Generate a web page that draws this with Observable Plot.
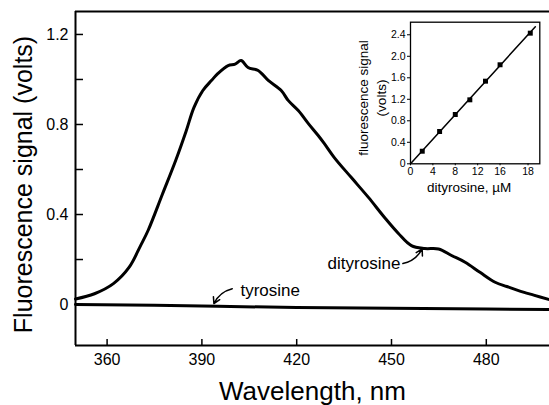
<!DOCTYPE html>
<html>
<head>
<meta charset="utf-8">
<script src="https://cdn.jsdelivr.net/npm/d3@7"></script>
<script src="https://cdn.jsdelivr.net/npm/@observablehq/plot@0.6"></script>
<style>
  body { margin: 0; background: #fff; }
  #chart { position: relative; width: 549px; height: 405px; overflow: hidden; }
  #inset { position: absolute; left: 340px; top: 0; }
</style>
</head>
<body>
<div id="chart"><div id="inset"></div></div>
<script>
// Emission spectrum of dityrosine (volts vs nm)
const wavelengthNm = [350, 356, 362, 367, 370.6, 373, 377.5, 381.7, 385, 387.5, 390.3, 393, 395.1, 398.3, 400.5, 402.4, 404.6, 407.8, 411, 415.1, 417.3, 420.5, 423.7, 426.8, 428.7, 431.9, 437.3, 442.7, 447.8, 452.2, 456.3, 460.5, 464.9, 469, 473.3, 478, 482.8, 486.5, 490.2, 495, 500];
const dityrosineVolts = [0.025, 0.048, 0.093, 0.166, 0.262, 0.33, 0.49, 0.64, 0.77, 0.876, 0.951, 0.995, 1.027, 1.062, 1.068, 1.084, 1.053, 1.04, 0.996, 0.951, 0.907, 0.862, 0.804, 0.751, 0.716, 0.653, 0.564, 0.476, 0.387, 0.316, 0.262, 0.249, 0.247, 0.218, 0.188, 0.143, 0.099, 0.08, 0.062, 0.042, 0.022];

// Tyrosine baseline
const tyrosineNm = [350, 375, 395, 420, 450, 480, 500];
const tyrosineVolts = [0.0, -0.003, -0.008, -0.013, -0.017, -0.02, -0.022];

// Main axes
const mainYTicks = [0, 0.2, 0.4, 0.6, 0.8, 1.0, 1.2];
const mainYLabels = [0, 0.4, 0.8, 1.2];
const mainXTicks = [360, 390, 420, 450, 480];

// Curve labels and their pointers
const curveNames = ["tyrosine", "dityrosine"];
const curveLabelNm = [402.2, 452.8];
const curveLabelVolts = [0.062, 0.182];
const curveLabelAnchor = ["start", "end"];
const pointerFromNm = [399.6, 453.6];
const pointerFromVolts = [0.07, 0.182];
const pointerToNm = [393.8, 459.7];
const pointerToVolts = [0.004, 0.247];

// Inset: calibration with dityrosine concentration
const dityrosineUM = [2.1, 5.2, 8.0, 10.6, 13.4, 16.0, 21.4];
const signalVolts = [0.234, 0.601, 0.917, 1.19, 1.537, 1.842, 2.43];
const fitUM = [0, 22.3];
const fitVolts = [0, 2.55];
const insetYTicks = [0, 0.4, 0.8, 1.2, 1.6, 2.0, 2.4];
const insetXTickPos = [0, 4, 8, 12, 16, 21];
const insetXTickLabels = ["0", "4", "8", "12", "16", "18"];

const font = "'Liberation Sans', Arial, Helvetica, sans-serif";
const W = 549, H = 405;
const mL = 75, mR = 0, mT = 11, mB = 60;
const frameW = W - mL - mR, frameH = H - mT - mB;
const yMin = -0.182, yMax = 1.302;

const spectrum = wavelengthNm.map((w, i) => ({w, v: dityrosineVolts[i]}));
const baseline = tyrosineNm.map((w, i) => ({w, v: tyrosineVolts[i]}));
const labels = curveNames.map((t, i) => ({t, x: curveLabelNm[i], y: curveLabelVolts[i], a: curveLabelAnchor[i]}));
const pointers = curveNames.map((t, i) => ({x1: pointerFromNm[i], y1: pointerFromVolts[i], x2: pointerToNm[i], y2: pointerToVolts[i]}));
const fmt = d => d === 0 ? "0" : d.toFixed(1);

const main = Plot.plot({
  width: W,
  height: H,
  marginLeft: mL, marginRight: mR, marginTop: mT, marginBottom: mB,
  style: {fontFamily: font, color: "#000", background: "#fff", overflow: "visible"},
  x: {domain: [350, 500]},
  y: {domain: [yMin, yMax]},
  marks: [
    Plot.tickY(mainYTicks, {y: d => d, insetRight: frameW - 8, strokeWidth: 1.5}),
    Plot.tickX(mainXTicks, {x: d => d, insetTop: frameH - 6, strokeWidth: 1.5}),
    Plot.axisY(mainYLabels, {tickSize: 0, tickPadding: 7, fontSize: 16, tickFormat: fmt, label: null}),
    Plot.axisX(mainXTicks, {tickSize: 0, tickPadding: 8, fontSize: 16, label: null}),
    Plot.ruleX([350], {strokeWidth: 2}),
    Plot.ruleY([yMin], {strokeWidth: 2}),
    Plot.ruleY([yMax], {strokeWidth: 2}),
    Plot.line(baseline, {x: "w", y: "v", strokeWidth: 3}),
    Plot.line(spectrum, {x: "w", y: "v", strokeWidth: 3, curve: "catmull-rom"}),
    Plot.text(labels.filter(d => d.a === "start"), {x: "x", y: "y", text: "t", textAnchor: "start", fontSize: 17}),
    Plot.text(labels.filter(d => d.a === "end"), {x: "x", y: "y", text: "t", textAnchor: "end", fontSize: 17}),
    Plot.arrow(pointers, {x1: "x1", y1: "y1", x2: "x2", y2: "y2", bend: -25, headLength: 7, strokeWidth: 1.5}),
    Plot.text(["Wavelength, nm"], {frameAnchor: "bottom", textAnchor: "middle", lineAnchor: "middle", dy: 46, fontSize: 26}),
    Plot.text(["Fluorescence signal (volts)"], {frameAnchor: "left", textAnchor: "middle", lineAnchor: "middle", dx: -51.5, dy: 6, rotate: -90, fontSize: 25})
  ]
});
document.getElementById("chart").prepend(main);

const calib = dityrosineUM.map((c, i) => ({c, v: signalVolts[i]}));
const fit = fitUM.map((c, i) => ({c, v: fitVolts[i]}));

const inset = Plot.plot({
  width: 209,
  height: 200,
  marginLeft: 70, marginRight: 9.7, marginTop: 21.7, marginBottom: 36.7,
  style: {fontFamily: font, color: "#000", background: "transparent", overflow: "visible"},
  x: {domain: [0, 23.1]},
  y: {domain: [0, 2.634]},
  marks: [
    Plot.frame({strokeWidth: 1.3}),
    Plot.axisY(insetYTicks, {tickSize: 3, tickPadding: 2, fontSize: 10.5, tickFormat: fmt, label: null}),
    Plot.axisX(insetXTickPos, {tickSize: 2, tickPadding: 2, fontSize: 10.5, tickFormat: d => insetXTickLabels[insetXTickPos.indexOf(d)], label: null}),
    Plot.line(fit, {x: "c", y: "v", strokeWidth: 1.5}),
    Plot.dot(calib, {x: "c", y: "v", symbol: "square", r: 2.8, fill: "#000", stroke: "none"}),
    Plot.text(["dityrosine, \u00b5M"], {frameAnchor: "bottom", textAnchor: "middle", lineAnchor: "middle", dx: -6, dy: 24, fontSize: 13.5}),
    Plot.text(["fluorescence signal\n(volts)"], {frameAnchor: "left", textAnchor: "middle", lineAnchor: "middle", dx: -39, dy: 5, rotate: -90, fontSize: 13.5, lineHeight: 1.3})
  ]
});
document.getElementById("inset").append(inset);
</script>
</body>
</html>
